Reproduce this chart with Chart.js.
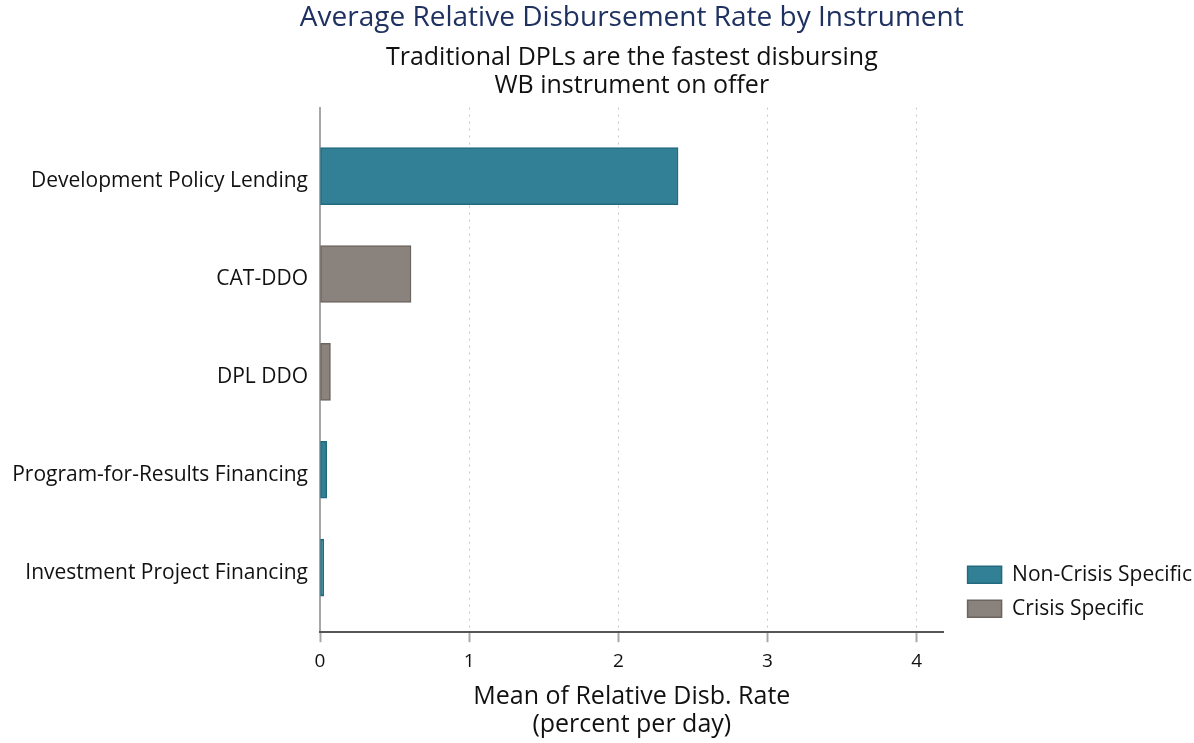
<!DOCTYPE html>
<html>
<head>
<meta charset="utf-8">
<script src="https://cdn.jsdelivr.net/npm/chart.js@4.4.1/dist/chart.umd.min.js"></script>
<style>
  html, body { margin: 0; padding: 0; background: #ffffff; }
  #wrap { width: 1194px; height: 743px; position: relative; }
</style>
</head>
<body>
<div id="wrap"><canvas id="chart"></canvas></div>
<script>
// Instruments, top to bottom
const categories = [
  'Development Policy Lending',
  'CAT-DDO',
  'DPL DDO',
  'Program-for-Results Financing',
  'Investment Project Financing'
];
// Mean relative disbursement rate (percent per day); null where the instrument is in the other group
const nonCrisisSpecific = [2.40, null, null, 0.045, 0.025];
const crisisSpecific = [null, 0.61, 0.07, null, null];
// Value axis ticks
const xTicks = [0, 1, 2, 3, 4];
const xMax = 4.18;

const FONT = '"Open Sans", sans-serif';

function toPoints(values) {
  const pts = [];
  values.forEach((v, i) => { if (v !== null) pts.push({ x: v, y: i }); });
  return pts;
}

// Title stays centred over the plot but may run wider than it;
// legend keys sit a little further from the plot edge
const boxTweaks = {
  id: 'boxTweaks',
  afterLayout(chart) {
    const t = chart.titleBlock;
    if (t) { t.left -= 120; t.right += 120; t.width = t.right - t.left; }
    const lg = chart.legend;
    if (lg) { lg.left += 11; lg.right += 11; }
  }
};

new Chart(document.getElementById('chart'), {
  type: 'bar',
  data: {
    datasets: [
      {
        label: 'Non-Crisis Specific',
        data: toPoints(nonCrisisSpecific),
        backgroundColor: '#328096',
        borderColor: '#246a7f',
        borderWidth: 1.5,
        borderSkipped: false,
        barThickness: 57
      },
      {
        label: 'Crisis Specific',
        data: toPoints(crisisSpecific),
        backgroundColor: '#8a827c',
        borderColor: '#6c645e',
        borderWidth: 1.5,
        borderSkipped: false,
        barThickness: 57
      }
    ]
  },
  plugins: [boxTweaks],
  options: {
    indexAxis: 'y',
    responsive: true,
    maintainAspectRatio: false,
    animation: false,
    datasets: { bar: { grouped: false } },
    layout: { padding: { top: 0, right: 3, bottom: 4, left: 0 } },
    scales: {
      y: {
        type: 'linear',
        reverse: true,
        offset: false,
        min: -0.7,
        max: 4.66,
        afterBuildTicks: (scale) => { scale.ticks = categories.map((c, i) => ({ value: i })); },
        afterFit: (scale) => { scale.width = 320; },
        ticks: {
          callback: (v) => categories[v],
          color: '#111111',
          font: { family: FONT, size: 21 },
          padding: 12,
          labelOffset: 5,
          autoSkip: false
        },
        grid: { display: true, offset: false, color: 'rgba(0,0,0,0)', drawTicks: false },
        border: { display: true, color: '#a6a6a6', width: 2 }
      },
      x: {
        type: 'linear',
        min: 0,
        max: xMax,
        afterBuildTicks: (scale) => { scale.ticks = xTicks.map(v => ({ value: v })); },
        ticks: {
          color: '#111111',
          font: { family: FONT, size: 19 },
          padding: 8,
          maxRotation: 0
        },
        grid: {
          color: (ctx) => (ctx.tick && ctx.tick.value === 0) ? 'rgba(0,0,0,0)' : '#c8c8c8',
          lineWidth: 1,
          tickColor: '#a8a8a8',
          tickLength: 10,
          tickWidth: 2,
          tickBorderDash: []
        },
        border: { display: true, color: '#555555', width: 2, dash: [2, 5] },
        title: {
          display: true,
          text: ['Mean of Relative Disb. Rate', '(percent per day)'],
          color: '#111111',
          font: { family: FONT, size: 25, lineHeight: 1.12 },
          padding: { top: 2, bottom: 0 }
        }
      }
    },
    plugins: {
      title: {
        display: true,
        fullSize: false,
        text: 'Average Relative Disbursement Rate by Instrument',
        color: '#1e3160',
        font: { family: FONT, size: 28, weight: 'normal', lineHeight: 1.2 },
        padding: { top: 1, bottom: 2 }
      },
      subtitle: {
        display: true,
        fullSize: false,
        text: ['Traditional DPLs are the fastest disbursing', 'WB instrument on offer'],
        color: '#111111',
        font: { family: FONT, size: 25, weight: 'normal', lineHeight: 1.12 },
        padding: { top: 7, bottom: 8 }
      },
      legend: {
        position: 'right',
        align: 'end',
        fullSize: false,
        labels: {
          boxWidth: 34,
          boxHeight: 17,
          padding: 13,
          color: '#111111',
          font: { family: FONT, size: 21 }
        }
      },
      tooltip: { enabled: false }
    }
  }
});
</script>
</body>
</html>
